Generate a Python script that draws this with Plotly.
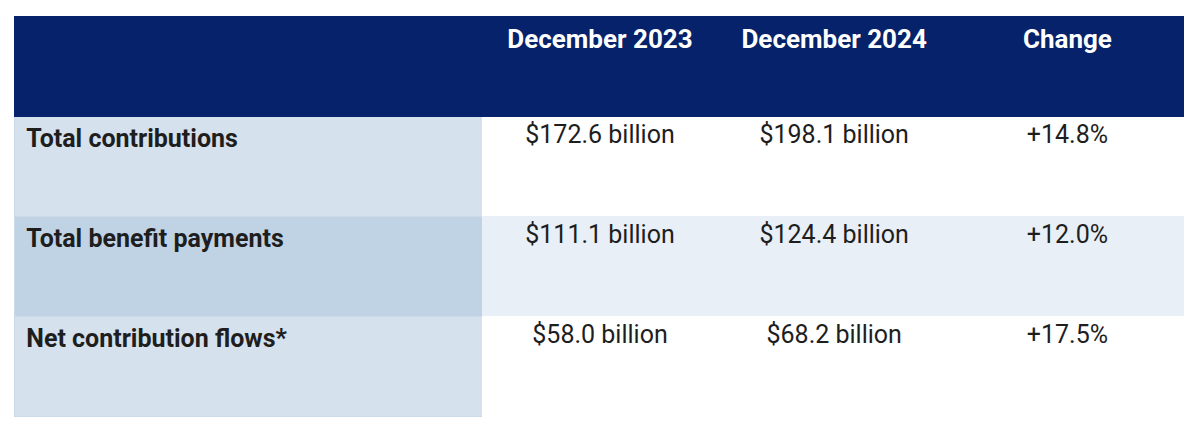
import plotly.graph_objects as go

header_labels = ["", "December 2023", "December 2024", "Change"]
row_labels = ["Total contributions", "Total benefit payments", "Net contribution flows*"]
dec_2023 = ["$172.6 billion", "$111.1 billion", "$58.0 billion"]
dec_2024 = ["$198.1 billion", "$124.4 billion", "$68.2 billion"]
change = ["+14.8%", "+12.0%", "+17.5%"]

NAVY = "#05226A"
col1_fill = ["#D5E1ED", "#C0D3E5", "#D5E1ED"]
other_fill = ["#FFFFFF", "#E8EFF7", "#FFFFFF"]

fig = go.Figure(go.Table(
    columnwidth=[468, 235, 233, 233],
    header=dict(
        values=["<b>%s</b>" % h for h in header_labels],
        fill_color=NAVY,
        line_color=NAVY,
        font=dict(family="Roboto", size=26, color="white"),
        align="center",
        height=100,
    ),
    cells=dict(
        values=[["\u2006<b>%s</b>" % r for r in row_labels], dec_2023, dec_2024, change],
        fill_color=[col1_fill, other_fill, other_fill, other_fill],
        line_color=["#CCD9E6", other_fill, other_fill, other_fill],
        font=dict(family="Roboto", size=25, color="#1E1E1E"),
        align=["left", "center", "center", "center"],
        height=100,
    ),
))
fig.update_layout(
    width=1200, height=430,
    margin=dict(l=6, r=24, t=8, b=0),
    paper_bgcolor="white",
)
fig.write_html("out.html")
